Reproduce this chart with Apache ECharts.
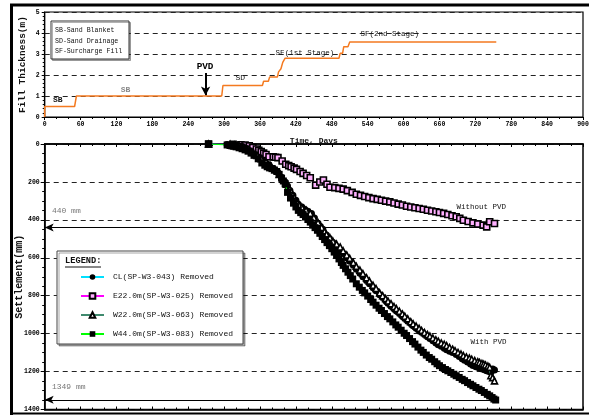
<!DOCTYPE html>
<html><head><meta charset="utf-8">
<script src="https://cdn.jsdelivr.net/npm/echarts@6/dist/echarts.min.js"></script>
<style>html,body{margin:0;padding:0;background:#fff}#c{width:589px;height:416px}</style>
</head><body><div id="c"></div>
<script>
// ---- data ----
const dayTicks = [0,60,120,180,240,300,360,420,480,540,600,660,720,780,840,900];
const fillThickness = [[0,0],[0,0.5],[50,0.5],[53,1.0],[296,1.0],[298,1.5],[364,1.5],[366,1.7],[374,1.7],[376,1.9],[389,1.9],[391,2.15],[395,2.3],[398,2.6],[402,2.8],[492,2.8],[494,3.03],[498,3.03],[500,3.35],[507,3.35],[510,3.57],[755,3.57]];
const clSettlement = [[274,0],[305,2],[312,4],[320,6],[328,12],[335,20],[343,36],[351,55],[358,72],[365,90],[370,100],[375,110],[382,129],[386,140],[390,150],[396,175],[402,200],[406,222],[410,245],[415,270],[420,296],[424,318],[430,332],[435,345],[440,355],[446,367],[451,390],[457,418],[461,435],[465,450],[471,480],[476,498],[482,520],[488,540],[494,560],[499,578],[505,600],[510,618],[516,640],[521,660],[527,682],[532,700],[538,720],[543,737],[549,758],[554,774],[560,795],[565,810],[570,827],[574,840],[579,855],[584,869],[588,880],[593,894],[598,908],[602,920],[607,934],[612,947],[616,958],[621,971],[626,983],[630,993],[635,1004],[640,1016],[644,1025],[649,1037],[654,1049],[658,1058],[663,1067],[668,1077],[672,1085],[677,1093],[682,1100],[688,1110],[693,1121],[698,1132],[702,1140],[707,1150],[712,1160],[716,1168],[721,1174],[726,1180],[730,1185],[735,1191],[739,1196],[743,1200],[746,1203],[749,1186],[752,1192]];
const e22Settlement = [[274,0],[315,2],[328,4],[335,5],[342,10],[348,18],[354,26],[358,33],[362,40],[366,48],[370,55],[375,67],[382,68],[386,70],[390,72],[397,90],[403,107],[408,114],[412,120],[417,127],[421,134],[427,145],[432,155],[438,166],[444,178],[453,217],[460,200],[466,190],[472,212],[477,228],[485,230],[492,234],[499,238],[506,246],[514,255],[521,265],[528,271],[535,277],[542,283],[549,288],[556,292],[563,297],[570,301],[577,305],[584,311],[591,317],[598,322],[605,328],[612,332],[619,336],[626,340],[633,344],[640,349],[647,353],[654,357],[660,361],[667,366],[674,372],[681,378],[688,384],[694,392],[700,402],[708,409],[716,416],[724,422],[733,428],[739,437],[744,410],[752,419]];
const w22Settlement = [[274,0],[310,2],[318,5],[325,8],[333,15],[340,25],[348,42],[355,60],[362,77],[370,95],[378,115],[385,135],[392,160],[398,185],[404,212],[410,240],[415,270],[420,300],[425,320],[430,335],[437,350],[444,365],[450,388],[457,415],[463,440],[468,462],[471,476],[477,495],[482,513],[488,528],[494,543],[499,563],[505,585],[510,603],[516,625],[521,645],[527,665],[532,683],[538,705],[543,723],[549,745],[554,762],[560,785],[565,800],[570,815],[574,828],[579,842],[584,857],[588,868],[593,882],[598,896],[602,908],[607,922],[612,937],[616,948],[621,960],[626,972],[630,983],[635,994],[640,1005],[644,1013],[649,1023],[654,1033],[658,1040],[663,1049],[668,1056],[672,1063],[677,1073],[682,1082],[686,1090],[691,1099],[696,1108],[700,1116],[705,1123],[710,1129],[714,1135],[719,1142],[724,1148],[727,1152],[731,1157],[734,1161],[737,1165],[741,1171],[744,1178],[746,1222],[749,1232],[752,1249]];
const w44Settlement = [[274,0],[305,5],[310,8],[313,10],[316,12],[320,15],[325,20],[330,25],[335,31],[340,38],[345,48],[350,60],[357,78],[363,100],[368,112],[372,120],[376,126],[380,130],[384,137],[388,145],[392,160],[396,180],[399,195],[402,210],[406,255],[411,285],[416,312],[420,332],[424,350],[428,362],[432,372],[436,385],[440,398],[444,412],[448,428],[452,441],[456,455],[460,471],[464,488],[468,504],[472,520],[476,536],[480,552],[484,570],[488,587],[492,606],[496,625],[499,640],[503,658],[507,676],[511,694],[515,712],[521,737],[526,755],[531,772],[535,785],[540,802],[545,820],[549,834],[554,850],[559,866],[563,878],[568,894],[573,910],[577,922],[582,938],[587,954],[591,966],[596,982],[601,998],[605,1010],[610,1026],[615,1042],[619,1055],[624,1071],[629,1087],[633,1099],[638,1113],[643,1126],[647,1135],[652,1148],[656,1159],[660,1169],[665,1179],[670,1189],[674,1196],[679,1205],[684,1214],[688,1222],[693,1231],[698,1241],[702,1248],[707,1258],[712,1267],[716,1275],[721,1284],[726,1293],[730,1300],[735,1310],[740,1320],[744,1328],[748,1337],[751,1345],[754,1350]];
const seriesNames = ['CL(SP-W3-043) Removed','E22.0m(SP-W3-025) Removed','W22.0m(SP-W3-063) Removed','W44.0m(SP-W3-083) Removed'];
const maxWithout = 440, maxWith = 1349;

const F = 'Liberation Mono';
const chart = echarts.init(document.getElementById('c'), null, {renderer:'canvas'});
const dash = {type:[5,4], color:'#222', width:1.2};
const lbl = {fontFamily:F, fontSize:6.5, fontWeight:'bold', color:'#000'};
function txt(coord, text, opt){
  return Object.assign({coord, value:text, symbol:'circle', symbolSize:0,
    label:{show:true, position:'inside', formatter:text, fontFamily:F, fontSize:7.5, color:'#111', align:'center', verticalAlign:'middle'}}, opt||{});
}
chart.setOption({
  animation:false,
  grid:[
    {left:44.7, right:6, top:12, height:105, show:true, borderColor:'#000', borderWidth:1.2, backgroundColor:'transparent', containLabel:false, outerBoundsMode:'none'},
    {left:44.7, right:6, top:144, height:265.5, show:true, borderColor:'#000', borderWidth:1.5, backgroundColor:'transparent', containLabel:false, outerBoundsMode:'none'}
  ],
  xAxis:[
    {gridIndex:0, type:'value', min:0, max:900, interval:60, name:'Time, Days', nameLocation:'middle', nameGap:20, nameMoveOverlap:false,
     nameTextStyle:{fontFamily:F, fontSize:8, fontWeight:'bold', color:'#111'},
     axisLine:{lineStyle:{color:'#000', width:1.2}}, axisTick:{inside:false, length:3, lineStyle:{color:'#000'}},
     minorTick:{show:true, splitNumber:3, length:2, lineStyle:{color:'#000'}},
     axisLabel:Object.assign({margin:4, formatter:(v)=>dayTicks.includes(v)?String(v):''}, lbl), splitLine:{show:false}},
    {gridIndex:1, type:'value', min:0, max:900, interval:60, position:'top',
     axisLine:{lineStyle:{color:'#000', width:1.5}}, axisTick:{inside:true, length:3, lineStyle:{color:'#000'}},
     minorTick:{show:true, splitNumber:3, length:2, lineStyle:{color:'#000'}}, axisLabel:{show:false}, splitLine:{show:false}},
    {gridIndex:1, type:'value', min:0, max:900, interval:60, position:'bottom',
     axisLine:{lineStyle:{color:'#000', width:1.5}}, axisTick:{inside:true, length:3, lineStyle:{color:'#000'}},
     minorTick:{show:true, splitNumber:3, length:2, lineStyle:{color:'#000'}}, axisLabel:{show:false}, splitLine:{show:false}}
  ],
  yAxis:[
    {gridIndex:0, type:'value', min:0, max:5, interval:1, name:'Fill Thickness(m)', nameLocation:'middle', nameGap:17, nameMoveOverlap:false,
     nameTextStyle:{fontFamily:F, fontSize:9.5, fontWeight:'bold', color:'#111'},
     axisLine:{lineStyle:{color:'#000', width:1.2}}, axisTick:{length:3, lineStyle:{color:'#000'}},
     minorTick:{show:true, splitNumber:5, length:2, lineStyle:{color:'#000'}},
     axisLabel:Object.assign({margin:5}, lbl), splitLine:{show:true, lineStyle:dash}},
    {gridIndex:1, type:'value', min:0, max:1400, interval:200, inverse:true, name:'Settlement(mm)', nameLocation:'middle', nameGap:20, nameMoveOverlap:false,
     nameTextStyle:{fontFamily:F, fontSize:10, fontWeight:'bold', color:'#111'},
     axisLine:{lineStyle:{color:'#000', width:1.5}}, axisTick:{length:4, lineStyle:{color:'#000'}},
     minorTick:{show:true, splitNumber:4, length:2.5, lineStyle:{color:'#000'}},
     axisLabel:Object.assign({margin:5, formatter:(v)=>String(v)}, lbl), splitLine:{show:true, lineStyle:dash}}
  ],
  legend:{left:57, top:251, orient:'vertical', data:seriesNames, padding:[22,10,6,23], itemWidth:23, itemHeight:7, itemGap:11,
    backgroundColor:'#fff', borderColor:'#444', borderWidth:1, shadowColor:'rgba(0,0,0,0.35)', shadowOffsetX:2, shadowOffsetY:2, shadowBlur:0,
    textStyle:{fontFamily:F, fontSize:8, color:'#111', padding:[0,0,0,4]}, selectedMode:false},
  graphic:[
    {type:'rect', shape:{x:51, y:21, width:78, height:38}, style:{fill:'#fff', stroke:'#333', lineWidth:1, shadowColor:'rgba(0,0,0,0.3)', shadowOffsetX:1.5, shadowOffsetY:1.5}, z:10},
    {type:'text', x:55, y:30.5, style:{text:'SB-Sand Blanket', font:'6.6px "Liberation Mono"', fill:'#111', verticalAlign:'middle'}, z:11},
    {type:'text', x:55, y:41.3, style:{text:'SD-Sand Drainage', font:'6.6px "Liberation Mono"', fill:'#111', verticalAlign:'middle'}, z:11},
    {type:'text', x:55, y:51.7, style:{text:'SF-Surcharge Fill', font:'6.6px "Liberation Mono"', fill:'#111', verticalAlign:'middle'}, z:11},
    {type:'text', x:65, y:261, style:{text:'LEGEND:', font:'bold 8.7px "Liberation Mono"', fill:'#111', verticalAlign:'middle'}, z:120},
    {type:'line', shape:{x1:65, y1:267, x2:101, y2:267}, style:{stroke:'#111', lineWidth:1}, z:120},
    {type:'line', shape:{x1:10, y1:5, x2:589, y2:5}, style:{stroke:'#000', lineWidth:3}},
    {type:'line', shape:{x1:11.5, y1:4, x2:11.5, y2:415}, style:{stroke:'#000', lineWidth:3}},
    {type:'line', shape:{x1:10, y1:413.5, x2:589, y2:413.5}, style:{stroke:'#000', lineWidth:2}}
  ],
  series:[
    {type:'line', xAxisIndex:0, yAxisIndex:0, data:fillThickness, showSymbol:false, symbol:'none', lineStyle:{color:'#f47a20', width:1.5}, z:5,
     markPoint:{silent:true, data:[
       txt([22,0.81],'SB',{label:{show:true,position:'inside',formatter:'SB',fontFamily:F,fontSize:8,fontWeight:'bold',color:'#111'}}),
       txt([135,1.29],'SB',{label:{show:true,position:'inside',formatter:'SB',fontFamily:F,fontSize:8,fontWeight:'bold',color:'#888'}}),
       txt([327,1.86],'SD',{label:{show:true,position:'inside',formatter:'SD',fontFamily:F,fontSize:8,color:'#111'}}),
       txt([268,2.4],'PVD',{label:{show:true,position:'inside',formatter:'PVD',fontFamily:F,fontSize:9.3,fontWeight:'bold',color:'#000'}}),
       txt([435,3.05],'SF(1st Stage)'),
       txt([577,3.95],'SF(2nd Stage)')
     ]},
     markLine:{silent:true, symbol:['none','arrow'], symbolSize:[7,9], label:{show:false}, lineStyle:{color:'#000', width:2, type:'solid'},
       data:[[{coord:[269,2.1]},{coord:[269,1.02]}]]}},
    {name:seriesNames[1], type:'line', xAxisIndex:1, yAxisIndex:1, data:e22Settlement, symbol:'rect', symbolSize:6,
     lineStyle:{color:'#ff00ff', width:1}, itemStyle:{color:'#ffb0ff', borderColor:'#000', borderWidth:1.6}, z:6,
     markLine:{silent:true, symbol:['arrow','none'], symbolSize:[6,9], label:{show:false}, lineStyle:{color:'#000', width:1, type:'solid'},
       data:[[{coord:[0,maxWithout]},{coord:[735,maxWithout]}],[{coord:[0,maxWith]},{coord:[745,maxWith]}]]},
     markPoint:{silent:true, data:[
       txt([12,354],'440 mm',{label:{show:true,position:'inside',formatter:'440 mm',fontFamily:F,fontSize:8,color:'#777',align:'left'}}),
       txt([12,1280],'1349 mm',{label:{show:true,position:'inside',formatter:'1349 mm',fontFamily:F,fontSize:8,color:'#777',align:'left'}}),
       txt([730,333],'Without PVD'),
       txt([742,1044],'With PVD')
     ]}},
    {name:seriesNames[0], type:'line', xAxisIndex:1, yAxisIndex:1, data:clSettlement, symbol:'circle', symbolSize:7,
     lineStyle:{color:'#00e0ff', width:1}, itemStyle:{color:'#000'}, z:7},
    {name:seriesNames[2], type:'line', xAxisIndex:1, yAxisIndex:1, data:w22Settlement, symbol:'triangle', symbolSize:6,
     lineStyle:{color:'#3f8a6e', width:1}, itemStyle:{color:'#fff', borderColor:'#000', borderWidth:1.6}, z:8},
    {name:seriesNames[3], type:'line', xAxisIndex:1, yAxisIndex:1, data:w44Settlement, symbol:'rect', symbolSize:7,
     lineStyle:{color:'#00ff00', width:1}, itemStyle:{color:'#000'}, z:9}
  ]
});
</script></body></html>
